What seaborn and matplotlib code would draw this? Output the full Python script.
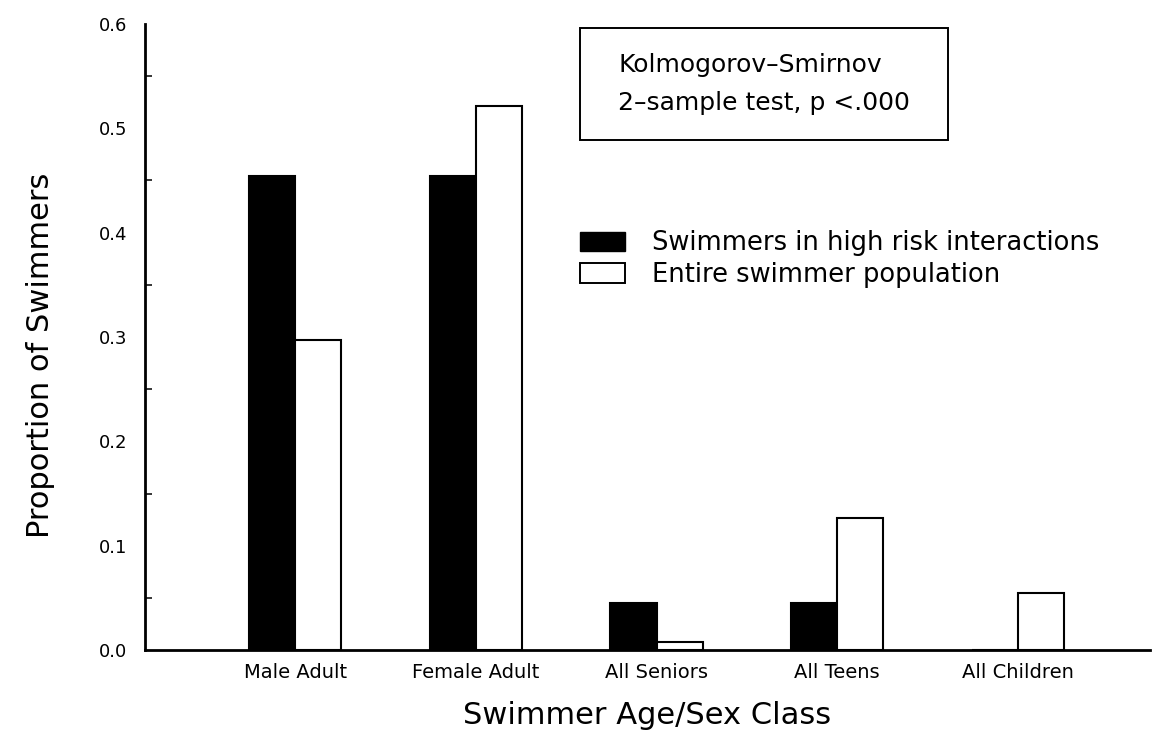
import pandas as pd
import matplotlib.pyplot as plt
import seaborn as sns
from matplotlib.patches import Patch, Rectangle
from matplotlib.ticker import MultipleLocator

# values
CLASSES = ["Male Adult", "Female Adult", "All Seniors", "All Teens", "All Children"]
HIGH_RISK = [0.4545, 0.4545, 0.0455, 0.0455, 0.0]
ENTIRE_POP = [0.297, 0.521, 0.008, 0.127, 0.055]
SERIES = ["Swimmers in high risk interactions", "Entire swimmer population"]
Y_TICKS = [0.0, 0.1, 0.2, 0.3, 0.4, 0.5, 0.6]
BOX_LINES = ["Kolmogorov\u2013Smirnov", "2\u2013sample test, p <.000"]

FONT = ["DejaVu Sans"]


def build_frame():
    df = pd.DataFrame({
        "cls": CLASSES * 2,
        "prop": HIGH_RISK + ENTIRE_POP,
        "series": [SERIES[0]] * len(CLASSES) + [SERIES[1]] * len(CLASSES),
    })
    return df


def main():
    sns.set_style("white")
    plt.rcParams['font.family'] = FONT
    for key in ["text.color", "axes.labelcolor", "xtick.color", "ytick.color"]:
        plt.rcParams[key] = "black"

    df = build_frame()

    fig = plt.figure(figsize=(11.67, 7.40), dpi=100)
    ax = fig.add_axes([0.1243, 0.1216, 0.8611, 0.846])

    sns.barplot(data=df, x="cls", y="prop", hue="series", order=CLASSES,
                hue_order=SERIES, palette=["black", "white"], edgecolor="black",
                linewidth=1.5, width=0.51, errorbar=None, legend=False, ax=ax)

    ax.set_xlim(-0.83, 4.73)
    ax.set_ylim(0, 0.6)
    ax.set_yticks(Y_TICKS)
    ax.set_yticklabels([f"{v:.1f}" for v in Y_TICKS], fontsize=13)
    ax.yaxis.set_minor_locator(MultipleLocator(0.05))
    ax.tick_params(axis="y", which="major", direction="in", length=9, width=1.1, pad=13)
    ax.tick_params(axis="y", which="minor", direction="in", length=5, width=1.1, left=True)
    ax.tick_params(axis="x", length=0, pad=9, labelsize=14)

    sns.despine(ax=ax)
    for side in ["left", "bottom"]:
        ax.spines[side].set_color("black")
        ax.spines[side].set_linewidth(2)

    ax.set_xlabel("Swimmer Age/Sex Class", fontsize=22, labelpad=14)
    ax.set_ylabel("Proportion of Swimmers", fontsize=22)
    ax.yaxis.set_label_coords(-0.09, 0.47)

    handles = [Patch(facecolor="black", edgecolor="black", label=SERIES[0]),
               Patch(facecolor="white", edgecolor="black", linewidth=1.4, label=SERIES[1])]
    fig.legend(handles=handles, loc="upper left", bbox_to_anchor=(0.497, 0.689),
               frameon=False, fontsize=18.5, handlelength=1.75, handleheight=0.78,
               handletextpad=1.05, labelspacing=0.22, borderaxespad=0, borderpad=0)

    # annotation box with the test result
    fig.add_artist(Rectangle((0.497, 0.8108), 0.3153, 0.1514, transform=fig.transFigure,
                             facecolor="white", edgecolor="black", linewidth=1.4))
    fig.text(0.5296, 0.9122, BOX_LINES[0], fontsize=18, ha="left", va="center")
    fig.text(0.5296, 0.8608, BOX_LINES[1], fontsize=18, ha="left", va="center")

    fig.savefig("out.png", dpi=100)


if (__name__ == '__main__'):
    main()
